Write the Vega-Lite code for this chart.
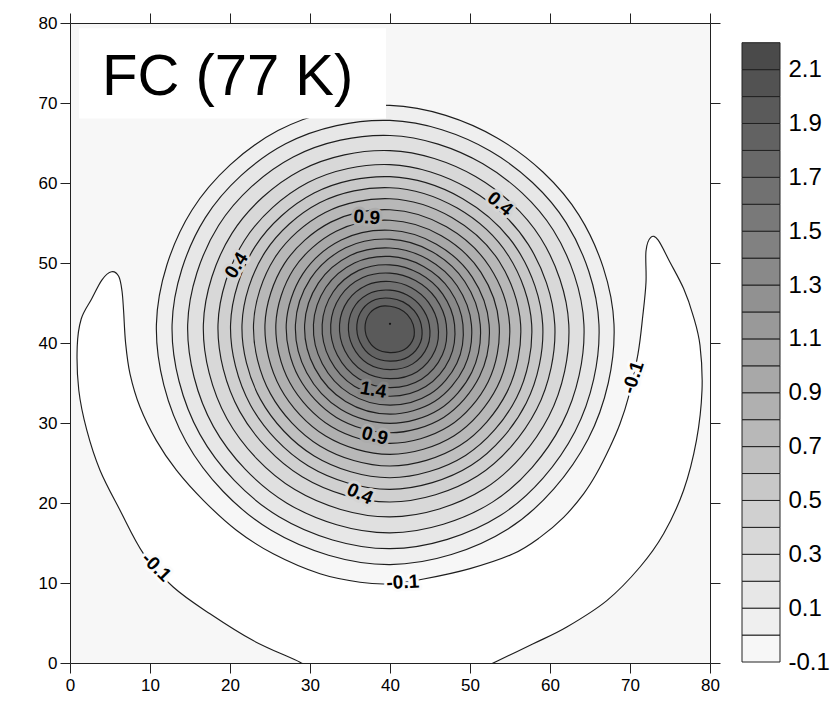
{
"$schema": "https://vega.github.io/schema/vega-lite/v6.json",
"padding": {"left": 38, "top": 12, "right": 0, "bottom": 0},
"background": "white",
"config": {"view": {"stroke": null}, "font": "Liberation Sans"},
"datasets": {
"contours": [
{"k":0,"lv":-0.2,"i":0,"x":31.0,"y":-1.2},{"k":0,"lv":-0.2,"i":1,"x":28.75,"y":0.1},{"k":0,"lv":-0.2,"i":2,"x":22.9,"y":2.8},{"k":0,"lv":-0.2,"i":3,"x":17.5,"y":6.15},{"k":0,"lv":-0.2,"i":4,"x":12.9,"y":9.5},{"k":0,"lv":-0.2,"i":5,"x":9.2,"y":13.65},{"k":0,"lv":-0.2,"i":6,"x":6.25,"y":19.1},{"k":0,"lv":-0.2,"i":7,"x":3.75,"y":24.1},{"k":0,"lv":-0.2,"i":8,"x":2.1,"y":29.1},{"k":0,"lv":-0.2,"i":9,"x":1.1,"y":34.1},
{"k":0,"lv":-0.2,"i":10,"x":0.9,"y":39.5},{"k":0,"lv":-0.2,"i":11,"x":1.4,"y":43.0},{"k":0,"lv":-0.2,"i":12,"x":2.7,"y":45.5},{"k":0,"lv":-0.2,"i":13,"x":4.0,"y":47.9},{"k":0,"lv":-0.2,"i":14,"x":5.2,"y":48.9},{"k":0,"lv":-0.2,"i":15,"x":6.1,"y":48.3},{"k":0,"lv":-0.2,"i":16,"x":6.5,"y":46.5},{"k":0,"lv":-0.2,"i":17,"x":6.7,"y":44.0},{"k":0,"lv":-0.2,"i":18,"x":6.95,"y":40.0},{"k":0,"lv":-0.2,"i":19,"x":7.5,"y":36.15},
{"k":0,"lv":-0.2,"i":20,"x":8.75,"y":32.0},{"k":0,"lv":-0.2,"i":21,"x":10.8,"y":27.8},{"k":0,"lv":-0.2,"i":22,"x":13.3,"y":24.1},{"k":0,"lv":-0.2,"i":23,"x":16.7,"y":20.3},{"k":0,"lv":-0.2,"i":24,"x":20.8,"y":16.6},{"k":0,"lv":-0.2,"i":25,"x":25.4,"y":13.65},{"k":0,"lv":-0.2,"i":26,"x":31.25,"y":11.15},{"k":0,"lv":-0.2,"i":27,"x":36.25,"y":10.1},{"k":0,"lv":-0.2,"i":28,"x":40.0,"y":9.9},{"k":0,"lv":-0.2,"i":29,"x":44.2,"y":10.5},
{"k":0,"lv":-0.2,"i":30,"x":50.0,"y":11.8},{"k":0,"lv":-0.2,"i":31,"x":55.4,"y":13.65},{"k":0,"lv":-0.2,"i":32,"x":58.75,"y":15.7},{"k":0,"lv":-0.2,"i":33,"x":61.7,"y":18.2},{"k":0,"lv":-0.2,"i":34,"x":64.2,"y":21.15},{"k":0,"lv":-0.2,"i":35,"x":65.8,"y":23.65},{"k":0,"lv":-0.2,"i":36,"x":67.5,"y":27.0},{"k":0,"lv":-0.2,"i":37,"x":68.75,"y":29.9},{"k":0,"lv":-0.2,"i":38,"x":69.8,"y":33.2},{"k":0,"lv":-0.2,"i":39,"x":71.0,"y":38.65},
{"k":0,"lv":-0.2,"i":40,"x":71.6,"y":43.4},{"k":0,"lv":-0.2,"i":41,"x":72.0,"y":47.6},{"k":0,"lv":-0.2,"i":42,"x":72.0,"y":51.5},{"k":0,"lv":-0.2,"i":43,"x":72.6,"y":53.2},{"k":0,"lv":-0.2,"i":44,"x":73.5,"y":52.9},{"k":0,"lv":-0.2,"i":45,"x":75.0,"y":50.1},{"k":0,"lv":-0.2,"i":46,"x":76.7,"y":46.8},{"k":0,"lv":-0.2,"i":47,"x":77.9,"y":43.4},{"k":0,"lv":-0.2,"i":48,"x":78.75,"y":39.7},{"k":0,"lv":-0.2,"i":49,"x":79.0,"y":34.1},
{"k":0,"lv":-0.2,"i":50,"x":78.3,"y":27.8},{"k":0,"lv":-0.2,"i":51,"x":76.7,"y":21.6},{"k":0,"lv":-0.2,"i":52,"x":74.2,"y":16.15},{"k":0,"lv":-0.2,"i":53,"x":71.25,"y":12.0},{"k":0,"lv":-0.2,"i":54,"x":67.1,"y":7.8},{"k":0,"lv":-0.2,"i":55,"x":62.1,"y":4.5},{"k":0,"lv":-0.2,"i":56,"x":57.9,"y":2.4},{"k":0,"lv":-0.2,"i":57,"x":52.9,"y":0.0},{"k":0,"lv":-0.2,"i":58,"x":50.5,"y":-1.2},{"k":0,"lv":-0.2,"i":59,"x":41.0,"y":-3.0},
{"k":1,"lv":0.0,"i":0,"x":68.0,"y":42.3},{"k":1,"lv":0.0,"i":1,"x":63.64,"y":55.95},{"k":1,"lv":0.0,"i":2,"x":53.45,"y":65.6},{"k":1,"lv":0.0,"i":3,"x":40,"y":69.7},{"k":1,"lv":0.0,"i":4,"x":26.0,"y":66.55},{"k":1,"lv":0.0,"i":5,"x":15.23,"y":56.6},{"k":1,"lv":0.0,"i":6,"x":10.8,"y":42.3},{"k":1,"lv":0.0,"i":7,"x":14.54,"y":27.6},{"k":1,"lv":0.0,"i":8,"x":25.15,"y":16.58},{"k":1,"lv":0.0,"i":9,"x":40,"y":12.3},{"k":1,"lv":0.0,"i":10,"x":54.75,"y":16.75},{"k":1,"lv":0.0,"i":11,"x":64.77,"y":28.0},
{"k":2,"lv":0.1,"i":0,"x":66.12,"y":42.3},{"k":2,"lv":0.1,"i":1,"x":62.03,"y":55.02},{"k":2,"lv":0.1,"i":2,"x":52.53,"y":64.0},{"k":2,"lv":0.1,"i":3,"x":40,"y":67.82},{"k":2,"lv":0.1,"i":4,"x":26.95,"y":64.9},{"k":2,"lv":0.1,"i":5,"x":16.9,"y":55.64},{"k":2,"lv":0.1,"i":6,"x":12.76,"y":42.3},{"k":2,"lv":0.1,"i":7,"x":16.24,"y":28.58},{"k":2,"lv":0.1,"i":8,"x":26.13,"y":18.28},{"k":2,"lv":0.1,"i":9,"x":40,"y":14.29},{"k":2,"lv":0.1,"i":10,"x":53.78,"y":18.43},{"k":2,"lv":0.1,"i":11,"x":63.13,"y":28.94},
{"k":3,"lv":0.2,"i":0,"x":64.24,"y":42.3},{"k":3,"lv":0.2,"i":1,"x":60.42,"y":54.09},{"k":3,"lv":0.2,"i":2,"x":51.61,"y":62.4},{"k":3,"lv":0.2,"i":3,"x":40,"y":65.94},{"k":3,"lv":0.2,"i":4,"x":27.9,"y":63.25},{"k":3,"lv":0.2,"i":5,"x":18.57,"y":54.68},{"k":3,"lv":0.2,"i":6,"x":14.71,"y":42.3},{"k":3,"lv":0.2,"i":7,"x":17.93,"y":29.55},{"k":3,"lv":0.2,"i":8,"x":27.12,"y":19.98},{"k":3,"lv":0.2,"i":9,"x":40,"y":16.27},{"k":3,"lv":0.2,"i":10,"x":52.81,"y":20.11},{"k":3,"lv":0.2,"i":11,"x":61.49,"y":29.89},
{"k":4,"lv":0.3,"i":0,"x":62.35,"y":42.3},{"k":4,"lv":0.3,"i":1,"x":58.81,"y":53.16},{"k":4,"lv":0.3,"i":2,"x":50.69,"y":60.81},{"k":4,"lv":0.3,"i":3,"x":40,"y":64.05},{"k":4,"lv":0.3,"i":4,"x":28.86,"y":61.6},{"k":4,"lv":0.3,"i":5,"x":20.24,"y":53.71},{"k":4,"lv":0.3,"i":6,"x":16.67,"y":42.3},{"k":4,"lv":0.3,"i":7,"x":19.62,"y":30.53},{"k":4,"lv":0.3,"i":8,"x":28.1,"y":21.68},{"k":4,"lv":0.3,"i":9,"x":40,"y":18.26},{"k":4,"lv":0.3,"i":10,"x":51.84,"y":21.8},{"k":4,"lv":0.3,"i":11,"x":59.86,"y":30.83},
{"k":5,"lv":0.4,"i":0,"x":60.6,"y":42.3},{"k":5,"lv":0.4,"i":1,"x":57.3,"y":52.29},{"k":5,"lv":0.4,"i":2,"x":49.82,"y":59.31},{"k":5,"lv":0.4,"i":3,"x":40,"y":62.3},{"k":5,"lv":0.4,"i":4,"x":29.75,"y":60.06},{"k":5,"lv":0.4,"i":5,"x":21.8,"y":52.81},{"k":5,"lv":0.4,"i":6,"x":18.5,"y":42.3},{"k":5,"lv":0.4,"i":7,"x":21.21,"y":31.45},{"k":5,"lv":0.4,"i":8,"x":29.02,"y":23.27},{"k":5,"lv":0.4,"i":9,"x":40,"y":20.12},{"k":5,"lv":0.4,"i":10,"x":50.93,"y":23.37},{"k":5,"lv":0.4,"i":11,"x":58.33,"y":31.71},
{"k":6,"lv":0.5,"i":0,"x":59.09,"y":42.3},{"k":6,"lv":0.5,"i":1,"x":56.02,"y":51.55},{"k":6,"lv":0.5,"i":2,"x":49.09,"y":58.04},{"k":6,"lv":0.5,"i":3,"x":40,"y":60.79},{"k":6,"lv":0.5,"i":4,"x":30.51,"y":58.74},{"k":6,"lv":0.5,"i":5,"x":23.13,"y":52.04},{"k":6,"lv":0.5,"i":6,"x":20.07,"y":42.3},{"k":6,"lv":0.5,"i":7,"x":22.57,"y":32.23},{"k":6,"lv":0.5,"i":8,"x":29.8,"y":24.63},{"k":6,"lv":0.5,"i":9,"x":40,"y":21.71},{"k":6,"lv":0.5,"i":10,"x":50.16,"y":24.71},{"k":6,"lv":0.5,"i":11,"x":57.02,"y":32.47},
{"k":7,"lv":0.6,"i":0,"x":57.71,"y":42.3},{"k":7,"lv":0.6,"i":1,"x":54.83,"y":50.87},{"k":7,"lv":0.6,"i":2,"x":48.41,"y":56.86},{"k":7,"lv":0.6,"i":3,"x":40,"y":59.41},{"k":7,"lv":0.6,"i":4,"x":31.2,"y":57.53},{"k":7,"lv":0.6,"i":5,"x":24.36,"y":51.33},{"k":7,"lv":0.6,"i":6,"x":21.5,"y":42.3},{"k":7,"lv":0.6,"i":7,"x":23.81,"y":32.95},{"k":7,"lv":0.6,"i":8,"x":30.52,"y":25.88},{"k":7,"lv":0.6,"i":9,"x":40,"y":23.16},{"k":7,"lv":0.6,"i":10,"x":49.44,"y":25.95},{"k":7,"lv":0.6,"i":11,"x":55.82,"y":33.16},
{"k":8,"lv":0.7,"i":0,"x":56.33,"y":42.3},{"k":8,"lv":0.7,"i":1,"x":53.66,"y":50.19},{"k":8,"lv":0.7,"i":2,"x":47.73,"y":55.69},{"k":8,"lv":0.7,"i":3,"x":40,"y":58.03},{"k":8,"lv":0.7,"i":4,"x":31.9,"y":56.32},{"k":8,"lv":0.7,"i":5,"x":25.58,"y":50.63},{"k":8,"lv":0.7,"i":6,"x":22.94,"y":42.3},{"k":8,"lv":0.7,"i":7,"x":25.05,"y":33.67},{"k":8,"lv":0.7,"i":8,"x":31.24,"y":27.13},{"k":8,"lv":0.7,"i":9,"x":40,"y":24.62},{"k":8,"lv":0.7,"i":10,"x":48.73,"y":27.18},{"k":8,"lv":0.7,"i":11,"x":54.62,"y":33.86},
{"k":9,"lv":0.8,"i":0,"x":54.95,"y":42.3},{"k":9,"lv":0.8,"i":1,"x":52.47,"y":49.5},{"k":9,"lv":0.8,"i":2,"x":47.06,"y":54.52},{"k":9,"lv":0.8,"i":3,"x":40,"y":56.65},{"k":9,"lv":0.8,"i":4,"x":32.6,"y":55.11},{"k":9,"lv":0.8,"i":5,"x":26.8,"y":49.92},{"k":9,"lv":0.8,"i":6,"x":24.37,"y":42.3},{"k":9,"lv":0.8,"i":7,"x":26.29,"y":34.38},{"k":9,"lv":0.8,"i":8,"x":31.96,"y":28.37},{"k":9,"lv":0.8,"i":9,"x":40,"y":26.08},{"k":9,"lv":0.8,"i":10,"x":48.02,"y":28.42},{"k":9,"lv":0.8,"i":11,"x":53.42,"y":34.55},
{"k":10,"lv":0.9,"i":0,"x":53.64,"y":42.3},{"k":10,"lv":0.9,"i":1,"x":51.35,"y":48.86},{"k":10,"lv":0.9,"i":2,"x":46.42,"y":53.41},{"k":10,"lv":0.9,"i":3,"x":40,"y":55.34},{"k":10,"lv":0.9,"i":4,"x":33.27,"y":53.97},{"k":10,"lv":0.9,"i":5,"x":27.96,"y":49.25},{"k":10,"lv":0.9,"i":6,"x":25.73,"y":42.3},{"k":10,"lv":0.9,"i":7,"x":27.47,"y":35.06},{"k":10,"lv":0.9,"i":8,"x":32.65,"y":29.56},{"k":10,"lv":0.9,"i":9,"x":40,"y":27.46},{"k":10,"lv":0.9,"i":10,"x":47.35,"y":29.58},{"k":10,"lv":0.9,"i":11,"x":52.29,"y":35.2},
{"k":11,"lv":1.0,"i":0,"x":52.39,"y":42.3},{"k":11,"lv":1.0,"i":1,"x":50.28,"y":48.24},{"k":11,"lv":1.0,"i":2,"x":45.8,"y":52.35},{"k":11,"lv":1.0,"i":3,"x":40,"y":54.09},{"k":11,"lv":1.0,"i":4,"x":33.9,"y":52.87},{"k":11,"lv":1.0,"i":5,"x":29.08,"y":48.61},{"k":11,"lv":1.0,"i":6,"x":27.03,"y":42.3},{"k":11,"lv":1.0,"i":7,"x":28.59,"y":35.71},{"k":11,"lv":1.0,"i":8,"x":33.3,"y":30.7},{"k":11,"lv":1.0,"i":9,"x":40,"y":28.78},{"k":11,"lv":1.0,"i":10,"x":46.7,"y":30.7},{"k":11,"lv":1.0,"i":11,"x":51.2,"y":35.83},
{"k":12,"lv":1.1,"i":0,"x":51.28,"y":42.3},{"k":12,"lv":1.1,"i":1,"x":49.34,"y":47.69},{"k":12,"lv":1.1,"i":2,"x":45.26,"y":51.41},{"k":12,"lv":1.1,"i":3,"x":40,"y":52.98},{"k":12,"lv":1.1,"i":4,"x":34.46,"y":51.9},{"k":12,"lv":1.1,"i":5,"x":30.06,"y":48.04},{"k":12,"lv":1.1,"i":6,"x":28.18,"y":42.3},{"k":12,"lv":1.1,"i":7,"x":29.59,"y":36.29},{"k":12,"lv":1.1,"i":8,"x":33.88,"y":31.69},{"k":12,"lv":1.1,"i":9,"x":40,"y":29.95},{"k":12,"lv":1.1,"i":10,"x":46.13,"y":31.69},{"k":12,"lv":1.1,"i":11,"x":50.24,"y":36.39},
{"k":13,"lv":1.2,"i":0,"x":50.18,"y":42.3},{"k":13,"lv":1.2,"i":1,"x":48.39,"y":47.15},{"k":13,"lv":1.2,"i":2,"x":44.72,"y":50.47},{"k":13,"lv":1.2,"i":3,"x":40,"y":51.88},{"k":13,"lv":1.2,"i":4,"x":35.02,"y":50.93},{"k":13,"lv":1.2,"i":5,"x":31.04,"y":47.48},{"k":13,"lv":1.2,"i":6,"x":29.33,"y":42.3},{"k":13,"lv":1.2,"i":7,"x":30.59,"y":36.86},{"k":13,"lv":1.2,"i":8,"x":34.45,"y":32.69},{"k":13,"lv":1.2,"i":9,"x":40,"y":31.11},{"k":13,"lv":1.2,"i":10,"x":45.56,"y":32.68},{"k":13,"lv":1.2,"i":11,"x":49.27,"y":36.94},
{"k":14,"lv":1.3,"i":0,"x":49.12,"y":42.3},{"k":14,"lv":1.3,"i":1,"x":47.49,"y":46.63},{"k":14,"lv":1.3,"i":2,"x":44.2,"y":49.57},{"k":14,"lv":1.3,"i":3,"x":40,"y":50.82},{"k":14,"lv":1.3,"i":4,"x":35.55,"y":50.01},{"k":14,"lv":1.3,"i":5,"x":31.97,"y":46.94},{"k":14,"lv":1.3,"i":6,"x":30.43,"y":42.3},{"k":14,"lv":1.3,"i":7,"x":31.54,"y":37.41},{"k":14,"lv":1.3,"i":8,"x":35.0,"y":33.64},{"k":14,"lv":1.3,"i":9,"x":40,"y":32.23},{"k":14,"lv":1.3,"i":10,"x":45.01,"y":33.62},{"k":14,"lv":1.3,"i":11,"x":48.36,"y":37.47},
{"k":15,"lv":1.4,"i":0,"x":48.07,"y":42.3},{"k":15,"lv":1.4,"i":1,"x":46.59,"y":46.11},{"k":15,"lv":1.4,"i":2,"x":43.69,"y":48.68},{"k":15,"lv":1.4,"i":3,"x":40,"y":49.77},{"k":15,"lv":1.4,"i":4,"x":36.09,"y":49.08},{"k":15,"lv":1.4,"i":5,"x":32.91,"y":46.4},{"k":15,"lv":1.4,"i":6,"x":31.52,"y":42.3},{"k":15,"lv":1.4,"i":7,"x":32.48,"y":37.96},{"k":15,"lv":1.4,"i":8,"x":35.55,"y":34.59},{"k":15,"lv":1.4,"i":9,"x":40,"y":33.34},{"k":15,"lv":1.4,"i":10,"x":44.47,"y":34.56},{"k":15,"lv":1.4,"i":11,"x":47.44,"y":38.0},
{"k":16,"lv":1.5,"i":0,"x":47.04,"y":42.3},{"k":16,"lv":1.5,"i":1,"x":45.71,"y":45.6},{"k":16,"lv":1.5,"i":2,"x":43.18,"y":47.81},{"k":16,"lv":1.5,"i":3,"x":40,"y":48.74},{"k":16,"lv":1.5,"i":4,"x":36.6,"y":48.18},{"k":16,"lv":1.5,"i":5,"x":33.82,"y":45.87},{"k":16,"lv":1.5,"i":6,"x":32.59,"y":42.3},{"k":16,"lv":1.5,"i":7,"x":33.41,"y":38.49},{"k":16,"lv":1.5,"i":8,"x":36.09,"y":35.53},{"k":16,"lv":1.5,"i":9,"x":40,"y":34.43},{"k":16,"lv":1.5,"i":10,"x":43.94,"y":35.48},{"k":16,"lv":1.5,"i":11,"x":46.55,"y":38.52},
{"k":17,"lv":1.6,"i":0,"x":45.99,"y":42.3},{"k":17,"lv":1.6,"i":1,"x":44.81,"y":45.08},{"k":17,"lv":1.6,"i":2,"x":42.67,"y":46.92},{"k":17,"lv":1.6,"i":3,"x":40,"y":47.69},{"k":17,"lv":1.6,"i":4,"x":37.14,"y":47.25},{"k":17,"lv":1.6,"i":5,"x":34.75,"y":45.33},{"k":17,"lv":1.6,"i":6,"x":33.69,"y":42.3},{"k":17,"lv":1.6,"i":7,"x":34.36,"y":39.04},{"k":17,"lv":1.6,"i":8,"x":36.64,"y":36.48},{"k":17,"lv":1.6,"i":9,"x":40,"y":35.54},{"k":17,"lv":1.6,"i":10,"x":43.4,"y":36.42},{"k":17,"lv":1.6,"i":11,"x":45.63,"y":39.05},
{"k":18,"lv":1.7,"i":0,"x":44.91,"y":42.3},{"k":18,"lv":1.7,"i":1,"x":43.88,"y":44.54},{"k":18,"lv":1.7,"i":2,"x":42.14,"y":46.0},{"k":18,"lv":1.7,"i":3,"x":40,"y":46.61},{"k":18,"lv":1.7,"i":4,"x":37.68,"y":46.31},{"k":18,"lv":1.7,"i":5,"x":35.7,"y":44.78},{"k":18,"lv":1.7,"i":6,"x":34.81,"y":42.3},{"k":18,"lv":1.7,"i":7,"x":35.33,"y":39.6},{"k":18,"lv":1.7,"i":8,"x":37.2,"y":37.45},{"k":18,"lv":1.7,"i":9,"x":40,"y":36.68},{"k":18,"lv":1.7,"i":10,"x":42.84,"y":37.39},{"k":18,"lv":1.7,"i":11,"x":44.69,"y":39.59},
{"k":19,"lv":1.8,"i":0,"x":43.9,"y":42.3},{"k":19,"lv":1.8,"i":1,"x":43.02,"y":44.05},{"k":19,"lv":1.8,"i":2,"x":41.64,"y":45.14},{"k":19,"lv":1.8,"i":3,"x":40,"y":45.6},{"k":19,"lv":1.8,"i":4,"x":38.19,"y":45.43},{"k":19,"lv":1.8,"i":5,"x":36.6,"y":44.27},{"k":19,"lv":1.8,"i":6,"x":35.86,"y":42.3},{"k":19,"lv":1.8,"i":7,"x":36.24,"y":40.13},{"k":19,"lv":1.8,"i":8,"x":37.73,"y":38.36},{"k":19,"lv":1.8,"i":9,"x":40,"y":37.74},{"k":19,"lv":1.8,"i":10,"x":42.32,"y":38.28},{"k":19,"lv":1.8,"i":11,"x":43.82,"y":40.09},
{"k":20,"lv":1.9,"i":0,"x":42.9,"y":42.3},{"k":20,"lv":1.9,"i":1,"x":42.17,"y":43.55},{"k":20,"lv":1.9,"i":2,"x":41.15,"y":44.29},{"k":20,"lv":1.9,"i":3,"x":40,"y":44.6},{"k":20,"lv":1.9,"i":4,"x":38.7,"y":44.55},{"k":20,"lv":1.9,"i":5,"x":37.49,"y":43.75},{"k":20,"lv":1.9,"i":6,"x":36.9,"y":42.3},{"k":20,"lv":1.9,"i":7,"x":37.14,"y":40.65},{"k":20,"lv":1.9,"i":8,"x":38.25,"y":39.27},{"k":20,"lv":1.9,"i":9,"x":40,"y":38.8},{"k":20,"lv":1.9,"i":10,"x":41.8,"y":39.18},{"k":20,"lv":1.9,"i":11,"x":42.94,"y":40.6}
],
"labels": [
{"label":"-0.1","x":10.8,"y":12.0,"angle":45,"lv":-0.15},
{"label":"-0.1","x":41.6,"y":10.1,"angle":-3,"lv":-0.15},
{"label":"-0.1","x":70.4,"y":35.7,"angle":-72,"lv":-0.15},
{"label":"0.4","x":20.8,"y":49.7,"angle":-58,"lv":0.35},
{"label":"0.9","x":37.1,"y":55.7,"angle":5,"lv":0.85},
{"label":"0.4","x":53.75,"y":57.4,"angle":40,"lv":0.35},
{"label":"1.4","x":37.9,"y":34.15,"angle":10,"lv":1.35},
{"label":"0.9","x":38.1,"y":28.4,"angle":15,"lv":0.85},
{"label":"0.4","x":36.25,"y":21.15,"angle":25,"lv":0.35}
],
"bar": [
{"lo":-0.1,"hi":0.0},{"lo":0.0,"hi":0.1},{"lo":0.1,"hi":0.2},{"lo":0.2,"hi":0.3},{"lo":0.3,"hi":0.4},{"lo":0.4,"hi":0.5},{"lo":0.5,"hi":0.6},{"lo":0.6,"hi":0.7},{"lo":0.7,"hi":0.8},{"lo":0.8,"hi":0.9},{"lo":0.9,"hi":1.0},{"lo":1.0,"hi":1.1},{"lo":1.1,"hi":1.2},{"lo":1.2,"hi":1.3},{"lo":1.3,"hi":1.4},{"lo":1.4,"hi":1.5},{"lo":1.5,"hi":1.6},{"lo":1.6,"hi":1.7},{"lo":1.7,"hi":1.8},{"lo":1.8,"hi":1.9},{"lo":1.9,"hi":2.0},{"lo":2.0,"hi":2.1},{"lo":2.1,"hi":2.2}
],
"center": [{"x":40,"y":42.4}],
"title": [{"t":"FC (77 K)"}]
},
"spacing": 32,
"bounds": "flush",
"hconcat": [
{
"width": 640, "height": 640,
"view": {"fill": "#f7f7f7", "stroke": null},
"resolve": {"axis": {"x": "independent", "y": "independent"}},
"layer": [
{"data": {"name": "contours"},
 "mark": {"type": "line", "interpolate": "cardinal-closed", "stroke": "#1e1e1e", "strokeWidth": 1.15, "clip": true},
 "encoding": {
  "x": {"field": "x", "type": "quantitative", "scale": {"domain": [0, 80], "nice": false, "zero": false},
        "axis": {"orient": "bottom", "values": [0,10,20,30,40,50,60,70,80], "tickSize": 10, "labelFontSize": 17, "labelPadding": 4, "labelColor": "#000", "domainColor": "#222", "tickColor": "#222", "grid": false, "title": null, "labelFlush": false}},
  "y": {"field": "y", "type": "quantitative", "scale": {"domain": [0, 80], "nice": false, "zero": false},
        "axis": {"orient": "left", "values": [0,10,20,30,40,50,60,70,80], "tickSize": 10, "labelFontSize": 17, "labelPadding": 3, "labelColor": "#000", "domainColor": "#222", "tickColor": "#222", "grid": false, "title": null, "labelFlush": false}},
  "detail": {"field": "k", "type": "nominal"},
  "order": {"field": "i", "type": "quantitative"},
  "fill": {"field": "lv", "type": "quantitative", "scale": {"domain": [-0.2, 2.1], "range": ["#ffffff", "#4a4a4a"], "interpolate": "rgb"}, "legend": null}
 }},
{"data": {"name": "center"},
 "mark": {"type": "point", "filled": true, "size": 5, "color": "#111", "opacity": 1},
 "encoding": {
  "x": {"field": "x", "type": "quantitative", "axis": {"orient": "top", "values": [0,10,20,30,40,50,60,70,80], "labels": false, "tickSize": 10, "domainColor": "#222", "tickColor": "#222", "grid": false, "title": null}},
  "y": {"field": "y", "type": "quantitative", "axis": {"orient": "right", "values": [0,10,20,30,40,50,60,70,80], "labels": false, "tickSize": 10, "domainColor": "#222", "tickColor": "#222", "grid": false, "title": null}}
 }},
{"data": {"name": "title"},
 "mark": {"type": "rect", "fill": "#ffffff", "stroke": null},
 "encoding": {
  "x": {"datum": 1.125, "type": "quantitative", "axis": null},
  "x2": {"datum": 39.5},
  "y": {"datum": 68.06, "type": "quantitative", "axis": null},
  "y2": {"datum": 79.35}
 }},
{"data": {"name": "title"},
 "mark": {"type": "text", "align": "left", "baseline": "alphabetic", "fontSize": 58, "font": "Liberation Sans", "color": "#000"},
 "encoding": {
  "x": {"datum": 4.0, "type": "quantitative", "axis": null},
  "y": {"datum": 70.94, "type": "quantitative", "axis": null},
  "text": {"field": "t"}
 }},
{"data": {"name": "labels"},
 "mark": {"type": "text", "align": "center", "baseline": "middle", "fontSize": 19, "fontWeight": "bold", "font": "Liberation Sans", "strokeWidth": 6, "strokeJoin": "round"},
 "encoding": {
  "x": {"field": "x", "type": "quantitative", "axis": null},
  "y": {"field": "y", "type": "quantitative", "axis": null},
  "text": {"field": "label"},
  "angle": {"field": "angle", "type": "quantitative", "scale": null},
  "fill": {"field": "lv", "type": "quantitative", "scale": {"domain": [-0.2, 2.1], "range": ["#ffffff", "#4a4a4a"], "interpolate": "rgb"}, "legend": null},
  "stroke": {"field": "lv", "type": "quantitative", "scale": {"domain": [-0.2, 2.1], "range": ["#ffffff", "#4a4a4a"], "interpolate": "rgb"}, "legend": null}
 }},
{"data": {"name": "labels"},
 "mark": {"type": "text", "align": "center", "baseline": "middle", "fontSize": 19, "fontWeight": "bold", "font": "Liberation Sans", "color": "#000"},
 "encoding": {
  "x": {"field": "x", "type": "quantitative", "axis": null},
  "y": {"field": "y", "type": "quantitative", "axis": null},
  "text": {"field": "label"},
  "angle": {"field": "angle", "type": "quantitative", "scale": null}
 }}
]
},
{
"width": 38, "height": 640,
"data": {"name": "bar"},
"mark": {"type": "rect", "stroke": "#222", "strokeWidth": 1},
"encoding": {
 "y": {"field": "lo", "type": "quantitative", "scale": {"domain": [-0.1037, 2.2732], "nice": false, "zero": false},
       "axis": {"orient": "right", "values": [-0.1,0.1,0.3,0.5,0.7,0.9,1.1,1.3,1.5,1.7,1.9,2.1], "ticks": false, "domain": false, "grid": false, "labelFontSize": 24, "labelPadding": 8, "labelColor": "#000", "title": null, "labelFlush": false, "labelOverlap": false, "labelExpr": "replace(format(datum.value, '.1f'), '−', '-')"}},
 "y2": {"field": "hi"},
 "fill": {"field": "lo", "type": "quantitative", "scale": {"domain": [-0.2, 2.1], "range": ["#ffffff", "#4a4a4a"], "interpolate": "rgb"}, "legend": null}
}
}
]
}
